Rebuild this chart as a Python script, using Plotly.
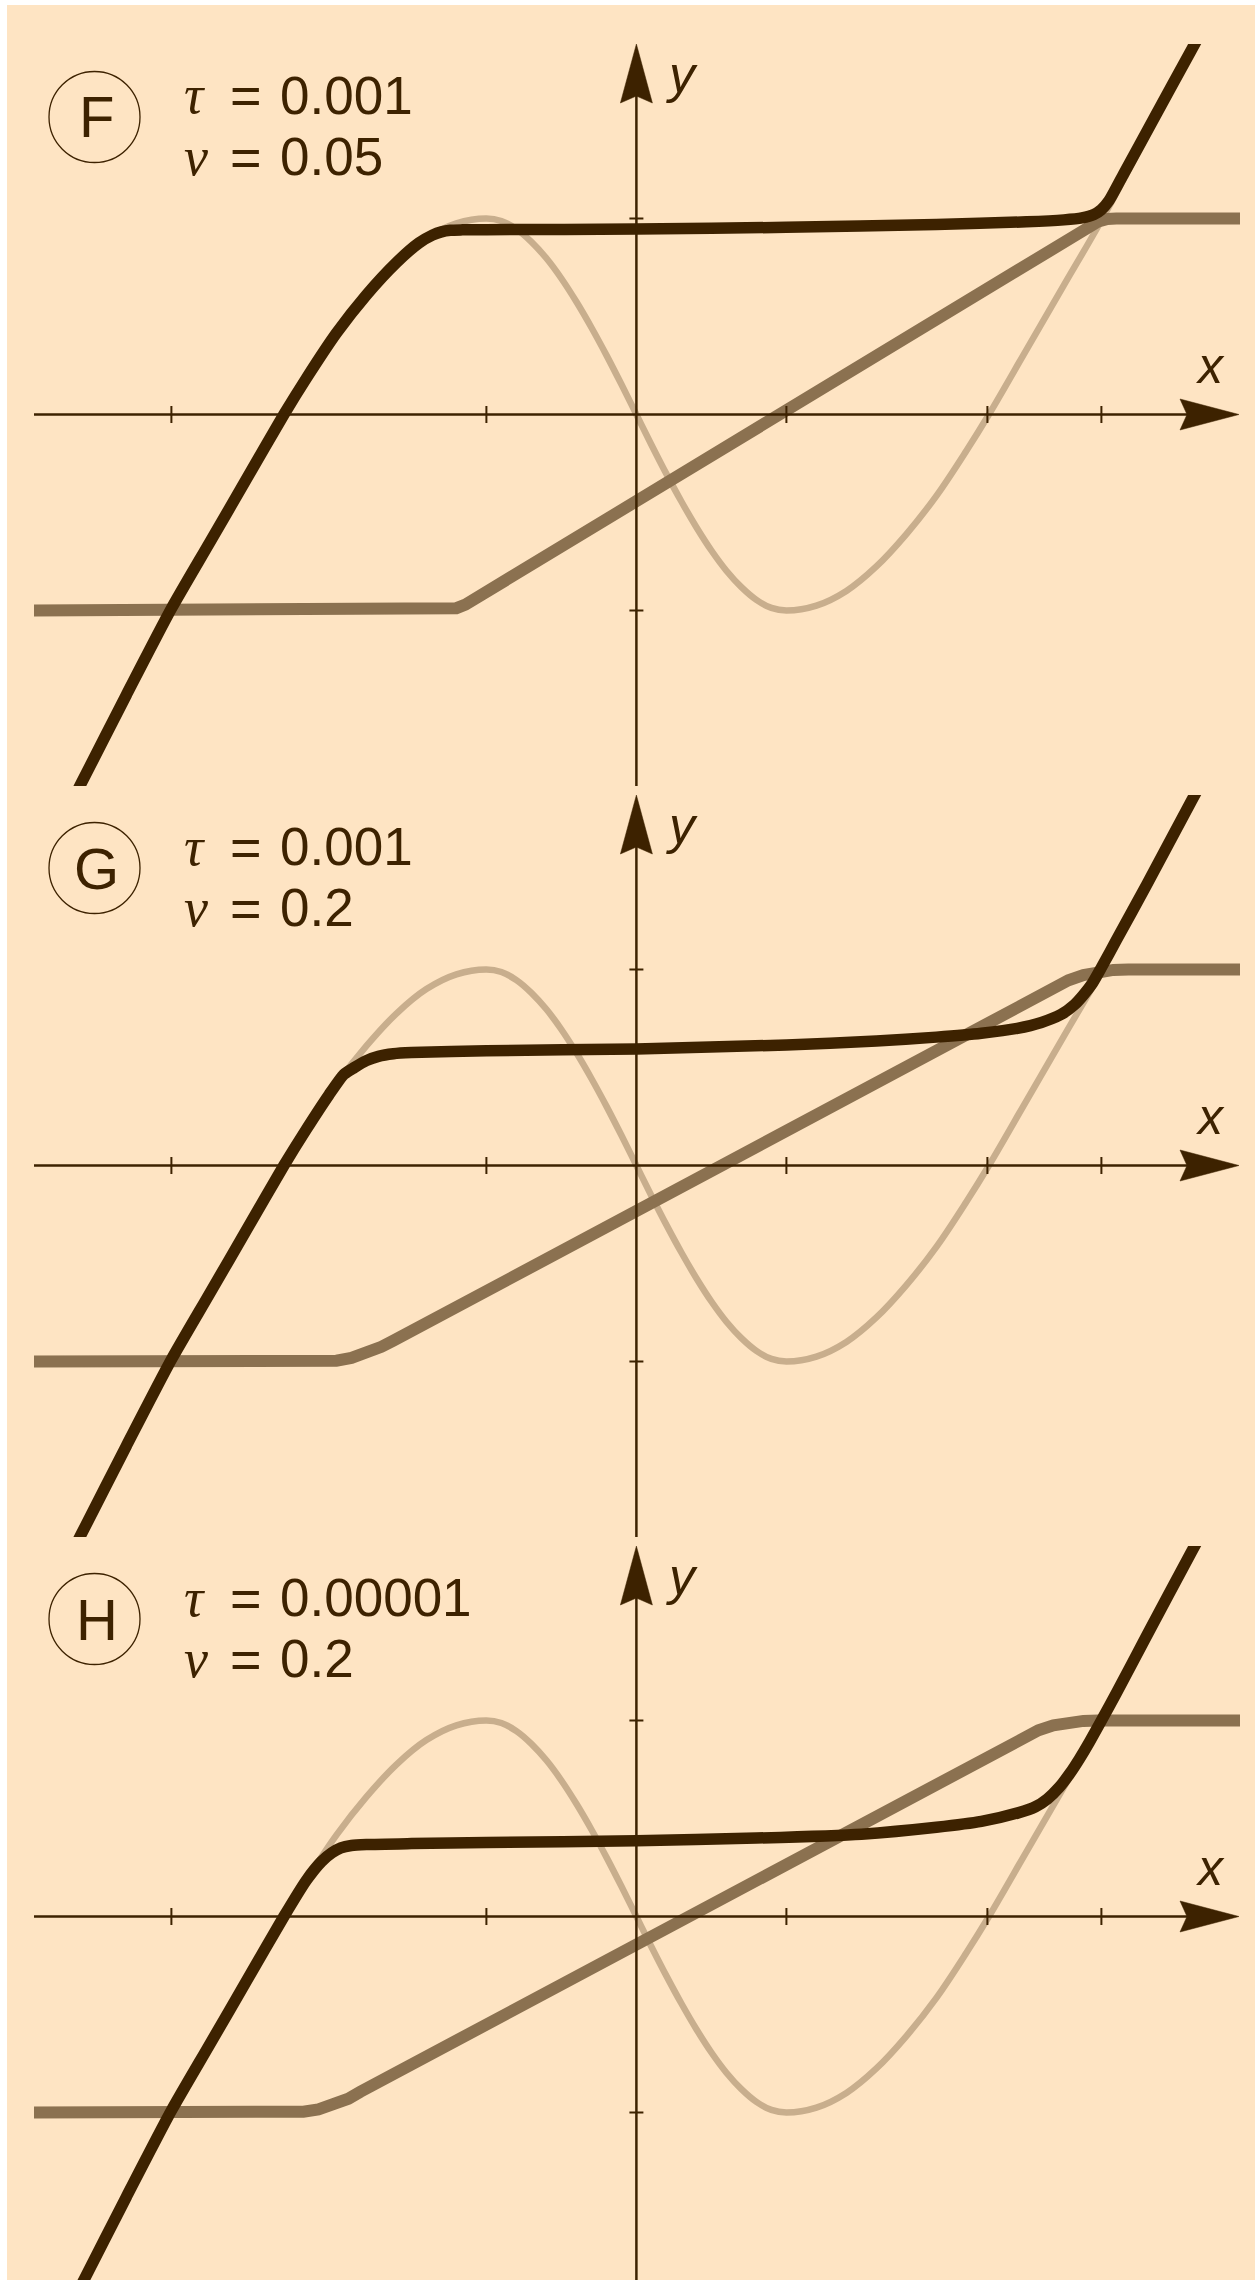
import plotly.graph_objects as go

W, H = 1255, 2280

# ---------------------------------------------------------------- data
PANELS = ["F", "G", "H"]
TAU = ["0.001", "0.001", "0.00001"]
NU = ["0.05", "0.2", "0.2"]

X_TICKS = [-3.1, -1.0, 1.0, 2.34, 3.1]
Y_TICKS = [-1.0, 1.0]

# N-shaped nullcline, identical in every panel
X_NULL = [-4.10, -3.70, -3.40, -3.10, -2.85, -2.60, -2.35, -2.20, -2.00, -1.80,
          -1.60, -1.40, -1.20, -1.00, -0.90, -0.80, -0.70, -0.60, -0.50, -0.40,
          -0.30, -0.20, -0.10, 0.00, 0.10, 0.20, 0.30, 0.40, 0.50, 0.60,
          0.70, 0.80, 0.90, 1.00, 1.20, 1.40, 1.60, 1.80, 2.00, 2.20,
          2.35, 2.60, 2.85, 3.10, 3.40, 3.70, 4.10]
Y_NULL = [-2.45, -1.88, -1.43, -0.99, -0.66, -0.33, 0.00, 0.185, 0.415, 0.61,
          0.775, 0.90, 0.975, 1.000, 0.987, 0.946, 0.881, 0.797, 0.694, 0.575,
          0.444, 0.303, 0.154, 0.000, -0.154, -0.303, -0.444, -0.575, -0.694, -0.797,
          -0.881, -0.946, -0.987, -1.000, -0.975, -0.90, -0.775, -0.61, -0.415, -0.185,
          0.00, 0.33, 0.66, 0.99, 1.42, 1.86, 2.42]

# saturating ramp
X_SAT_F = [-4.10, -1.32, -1.26, -1.20, -1.14, -1.08, 2.95, 3.02, 3.08, 3.14, 3.20, 4.10]
Y_SAT_F = [-1.00, -1.00, -0.997, -0.988, -0.970, -0.942, 0.932, 0.960, 0.985, 0.998, 1.00, 1.00]
X_SAT_G = [-4.10, -2.10, -2.00, -1.90, -1.80, -1.70, -1.62, 2.78, 2.88, 2.98, 3.08, 3.18, 3.28, 4.10]
Y_SAT_G = [-1.00, -1.00, -0.996, -0.982, -0.958, -0.925, -0.894, 0.910, 0.945, 0.972, 0.990, 0.998, 1.00, 1.00]
X_SAT_H = [-4.10, -2.32, -2.22, -2.12, -2.02, -1.92, -1.84, 2.58, 2.68, 2.78, 2.88, 2.98, 3.08, 4.10]
Y_SAT_H = [-1.00, -1.00, -0.996, -0.984, -0.962, -0.930, -0.894, 0.918, 0.950, 0.975, 0.990, 0.998, 1.00, 1.00]

# trajectories
X_TRAJ_F = [-3.80, -3.70, -3.40, -3.10, -2.85, -2.60, -2.35, -2.20, -2.00, -1.80,
            -1.60, -1.45, -1.36, -1.30, -1.24, -1.16, -1.00, 0.00, 1.00, 2.00,
            2.60, 2.85, 2.97, 3.05, 3.10, 3.15, 3.25, 3.45, 3.70, 3.80]
Y_TRAJ_F = [-2.03, -1.88, -1.43, -0.99, -0.66, -0.33, 0.00, 0.185, 0.415, 0.61,
            0.775, 0.875, 0.915, 0.932, 0.940, 0.942, 0.943, 0.946, 0.955, 0.970,
            0.983, 0.993, 1.003, 1.02, 1.045, 1.09, 1.23, 1.51, 1.86, 2.00]
X_TRAJ_G = [-3.80, -3.70, -3.40, -3.10, -2.85, -2.60, -2.35, -2.20, -2.05, -1.95,
            -1.88, -1.80, -1.72, -1.62, -1.50, -1.00, 0.00, 1.00, 1.60, 2.00,
            2.30, 2.54, 2.70, 2.83, 2.92, 2.98, 3.04, 3.10, 3.20, 3.40,
            3.70, 3.80]
Y_TRAJ_G = [-2.03, -1.88, -1.43, -0.99, -0.66, -0.33, 0.00, 0.185, 0.36, 0.465,
            0.50, 0.535, 0.557, 0.570, 0.576, 0.585, 0.595, 0.615, 0.635, 0.655,
            0.675, 0.70, 0.73, 0.77, 0.82, 0.87, 0.93, 1.01, 1.15, 1.43,
            1.86, 2.00]
X_TRAJ_H = [-3.80, -3.70, -3.40, -3.10, -2.85, -2.60, -2.35, -2.20, -2.10, -2.03,
            -1.97, -1.90, -1.80, -1.50, -1.00, 0.00, 0.80, 1.50, 2.00, 2.30,
            2.55, 2.66, 2.74, 2.82, 2.89, 2.95, 3.02, 3.10, 3.20, 3.40,
            3.70, 3.80]
Y_TRAJ_H = [-2.03, -1.88, -1.43, -0.99, -0.66, -0.33, 0.00, 0.185, 0.28, 0.325,
            0.350, 0.362, 0.367, 0.372, 0.378, 0.386, 0.40, 0.42, 0.455, 0.485,
            0.53, 0.56, 0.60, 0.66, 0.73, 0.80, 0.89, 1.00, 1.14, 1.43,
            1.86, 2.00]

SAT = [(X_SAT_F, Y_SAT_F), (X_SAT_G, Y_SAT_G), (X_SAT_H, Y_SAT_H)]
TRAJ = [(X_TRAJ_F, Y_TRAJ_F), (X_TRAJ_G, Y_TRAJ_G), (X_TRAJ_H, Y_TRAJ_H)]

# ---------------------------------------------------------------- style
BG = "#FEE4C3"
DARK = "#3D2200"
MID = "#8B7150"
LIGHT = "#C8AE8D"

# ---------------------------------------------------------------- geometry (px)
UX, UY = 150.0, 196.0          # pixels per data unit
OX = 636.4                     # x of the vertical axis
LEFT, RIGHT = 34.0, 1240.0
PANEL_STEP = 751.0
OY0, TOP0, BOT0 = 414.5, 44.0, 786.0


def px(xp):
    return xp / W


def py(yp):
    return 1.0 - yp / H


fig = go.Figure()
shapes, annotations = [], []

# page background with a thin white margin at top/left
shapes.append(dict(type="rect", xref="paper", yref="paper", x0=px(7), x1=1.0,
                   y0=0.0, y1=py(5), fillcolor=BG, line=dict(width=0), layer="below"))

x_range = [(LEFT - OX) / UX, (RIGHT - OX) / UX]
layout_axes = {}


def label(text, x, y, size, family, anchor="center"):
    annotations.append(dict(text=text, xref="paper", yref="paper", x=px(x), y=py(y),
                            showarrow=False, xanchor=anchor, yanchor="middle", borderpad=0,
                            font=dict(family=family, size=size, color=DARK)))


SANS = "Liberation Sans, Arial, sans-serif"
SERIF = "Liberation Serif, Times New Roman, serif"

for k in range(3):
    sfx = "" if k == 0 else str(k + 1)
    xa, ya = "x" + sfx, "y" + sfx
    oy = OY0 + PANEL_STEP * k
    top = TOP0 + PANEL_STEP * k
    bot = BOT0 + PANEL_STEP * k if k < 2 else H
    y_range = [(oy - bot) / UY, (oy - top) / UY]

    layout_axes["xaxis" + sfx] = dict(domain=[px(LEFT), px(RIGHT)], range=x_range,
                                      visible=False, anchor=ya, fixedrange=True)
    layout_axes["yaxis" + sfx] = dict(domain=[py(bot), py(top)], range=y_range,
                                      visible=False, anchor=xa, fixedrange=True)

    # curves
    fig.add_trace(go.Scatter(x=X_NULL, y=Y_NULL, xaxis=xa, yaxis=ya, mode="lines",
                             line=dict(color=LIGHT, width=6.5, shape="spline", smoothing=1.0),
                             hoverinfo="skip"))
    sx, sy = SAT[k]
    fig.add_trace(go.Scatter(x=sx, y=sy, xaxis=xa, yaxis=ya, mode="lines",
                             line=dict(color=MID, width=12, shape="linear"),
                             hoverinfo="skip"))
    tx, ty = TRAJ[k]
    fig.add_trace(go.Scatter(x=tx, y=ty, xaxis=xa, yaxis=ya, mode="lines",
                             line=dict(color=DARK, width=11.5, shape="spline", smoothing=0.6),
                             hoverinfo="skip"))

    # horizontal axis with arrow head
    x_tip = (1239 - OX) / UX
    a_len, a_half, a_notch = 59 / UX, 15.5 / UY, 7 / UX
    shapes.append(dict(type="line", xref=xa, yref=ya, x0=x_range[0], x1=x_tip - a_len + a_notch,
                       y0=0, y1=0, line=dict(color=DARK, width=2.5), layer="above"))
    shapes.append(dict(type="path", xref=xa, yref=ya, layer="above",
                       path=(f"M{x_tip},0 L{x_tip - a_len},{a_half} "
                             f"L{x_tip - a_len + a_notch},0 L{x_tip - a_len},{-a_half} Z"),
                       fillcolor=DARK, line=dict(color=DARK, width=0.5)))
    # vertical axis with arrow head
    y_tip = y_range[1]
    b_len, b_half, b_notch = 59 / UY, 16 / UX, 7 / UY
    shapes.append(dict(type="line", xref=xa, yref=ya, x0=0, x1=0, y0=y_range[0],
                       y1=y_tip - b_len + b_notch, line=dict(color=DARK, width=2.5), layer="above"))
    shapes.append(dict(type="path", xref=xa, yref=ya, layer="above",
                       path=(f"M0,{y_tip} L{b_half},{y_tip - b_len} "
                             f"L0,{y_tip - b_len + b_notch} L{-b_half},{y_tip - b_len} Z"),
                       fillcolor=DARK, line=dict(color=DARK, width=0.5)))
    # ticks
    for xt in X_TICKS:
        shapes.append(dict(type="line", xref=xa, yref=ya, x0=xt, x1=xt,
                           y0=-8.5 / UY, y1=8.5 / UY, line=dict(color=DARK, width=2), layer="above"))
    for yt in Y_TICKS:
        shapes.append(dict(type="line", xref=xa, yref=ya, x0=-7 / UX, x1=7 / UX,
                           y0=yt, y1=yt, line=dict(color=DARK, width=2), layer="above"))

    # axis names
    label("<i>y</i>", 682, 74 + PANEL_STEP * k, 52, SANS)
    label("<i>x</i>", 1210, 366 + PANEL_STEP * k, 50, SANS)

    # panel badge
    cy = 117 + PANEL_STEP * k
    shapes.append(dict(type="circle", xref="paper", yref="paper",
                       x0=px(94.5 - 45.5), x1=px(94.5 + 45.5), y0=py(cy + 45.5), y1=py(cy - 45.5),
                       line=dict(color=DARK, width=1.3), layer="above"))
    label(PANELS[k], 96.5, cy, 58, SANS)

    # parameter lines
    for row, (sym, val) in enumerate([("τ", TAU[k]), ("ν", NU[k])]):
        yc = 95.5 + 61 * row + PANEL_STEP * k
        label(f"<i>{sym}</i>", 183, yc, 54, SERIF, anchor="left")
        label("=", 229, yc, 54, SANS, anchor="left")
        label(val, 279, yc, 53, SANS, anchor="left")

fig.update_layout(
    width=W, height=H, autosize=False,
    margin=dict(l=0, r=0, t=0, b=0, pad=0),
    paper_bgcolor="white", plot_bgcolor="rgba(0,0,0,0)",
    showlegend=False, hovermode=False,
    shapes=shapes, annotations=annotations,
    **layout_axes,
)

fig.write_html("out.html", config={"displayModeBar": False})
